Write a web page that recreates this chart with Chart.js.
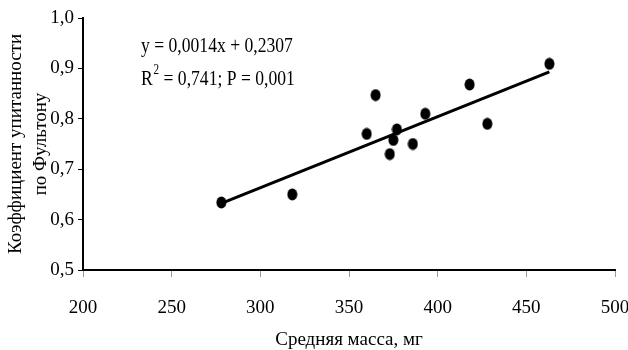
<!DOCTYPE html>
<html>
<head>
<meta charset="utf-8">
<script src="https://cdn.jsdelivr.net/npm/chart.js@4/dist/chart.umd.min.js"></script>
<style>
  html, body { margin: 0; padding: 0; background: #fff; }
  #wrap { width: 628px; height: 350px; }
</style>
</head>
<body>
<div id="wrap"><canvas id="chart"></canvas></div>
<script>
// Средняя масса (мг) и коэффициент упитанности
const massX = [278, 318, 360, 365, 373, 375, 377, 386, 393, 418, 428, 463];
const fultonY = [0.634, 0.650, 0.770, 0.847, 0.730, 0.758, 0.779, 0.750, 0.810, 0.868, 0.790, 0.909];

// линия тренда (концы, как на рисунке)
const trendX = [278, 463];
const trendY = [0.632, 0.893];

const xTicks = [200, 250, 300, 350, 400, 450, 500];
const yTicks = [0.5, 0.6, 0.7, 0.8, 0.9, 1.0];

const eqLine = 'y = 0,0014x + 0,2307';
const statsLine = ['R', '2', ' = 0,741; P = 0,001'];

const serif = '"Liberation Serif", "Times New Roman", serif';

// точка чуть вытянута по вертикали
function dotImage() {
  const c = document.createElement('canvas');
  c.width = 11; c.height = 13;
  const g = c.getContext('2d');
  g.fillStyle = '#000';
  g.beginPath();
  g.ellipse(5.5, 6.5, 5, 6, 0, 0, Math.PI * 2);
  g.fill();
  return c;
}

const equationPlugin = {
  id: 'equation',
  afterDraw(chart) {
    const ctx = chart.ctx;
    ctx.save();
    ctx.fillStyle = '#000';
    ctx.textBaseline = 'alphabetic';
    ctx.translate(141, 52);
    ctx.scale(0.8, 1);
    ctx.font = '22px ' + serif;
    ctx.fillText(eqLine, 0, 0);
    ctx.fillText(statsLine[0], 0, 33);
    let w = ctx.measureText(statsLine[0]).width;
    ctx.font = '14px ' + serif;
    ctx.fillText(statsLine[1], w + 1, 22);
    w += ctx.measureText(statsLine[1]).width + 1;
    ctx.font = '22px ' + serif;
    ctx.fillText(statsLine[2], w, 33);
    ctx.restore();
  }
};

const points = massX.map((x, i) => ({ x: x, y: fultonY[i] }));
const trend = trendX.map((x, i) => ({ x: x, y: trendY[i] }));

new Chart(document.getElementById('chart'), {
  type: 'scatter',
  data: {
    datasets: [
      {
        data: points,
        pointStyle: dotImage(),
        pointRadius: 6,
        pointHoverRadius: 6
      },
      {
        type: 'line',
        data: trend,
        borderColor: '#000',
        borderWidth: 3,
        pointRadius: 0,
        fill: false
      }
    ]
  },
  options: {
    responsive: true,
    maintainAspectRatio: false,
    animation: false,
    layout: { padding: { left: 0, top: 18, right: 0, bottom: 0 } },
    plugins: {
      legend: { display: false },
      tooltip: { enabled: false }
    },
    scales: {
      x: {
        type: 'linear',
        min: 200,
        max: 500,
        afterBuildTicks: (s) => { s.ticks = xTicks.map(v => ({ value: v })); },
        afterFit: (s) => { s.height = 80; s.paddingRight = 13; s.paddingLeft = 0; },
        grid: { drawOnChartArea: false, drawTicks: true, tickLength: 7, color: '#999', lineWidth: 1 },
        border: { color: '#000', width: 2 },
        ticks: { color: '#000', font: { family: serif, size: 19 }, padding: 20, maxRotation: 0 },
        title: { display: true, text: 'Средняя масса, мг', color: '#000', font: { family: serif, size: 19, lineHeight: 1.0 }, padding: { top: 8, bottom: 0 } }
      },
      y: {
        type: 'linear',
        min: 0.5,
        max: 1.0,
        afterBuildTicks: (s) => { s.ticks = yTicks.map(v => ({ value: v })); },
        afterFit: (s) => { s.width = 83; },
        grid: { drawOnChartArea: false, drawTicks: true, tickLength: 5, color: '#000', lineWidth: 1 },
        border: { color: '#000', width: 2 },
        ticks: {
          color: '#000',
          font: { family: serif, size: 19 },
          padding: 4,
          callback: (v) => v.toFixed(1).replace('.', ',')
        },
        title: {
          display: true,
          text: ['Коэффициент упитанности', 'по Фультону'],
          color: '#000',
          font: { family: serif, size: 19, lineHeight: 1.3 },
          padding: { top: 4, bottom: 0 }
        }
      }
    }
  },
  plugins: [equationPlugin]
});
</script>
</body>
</html>
